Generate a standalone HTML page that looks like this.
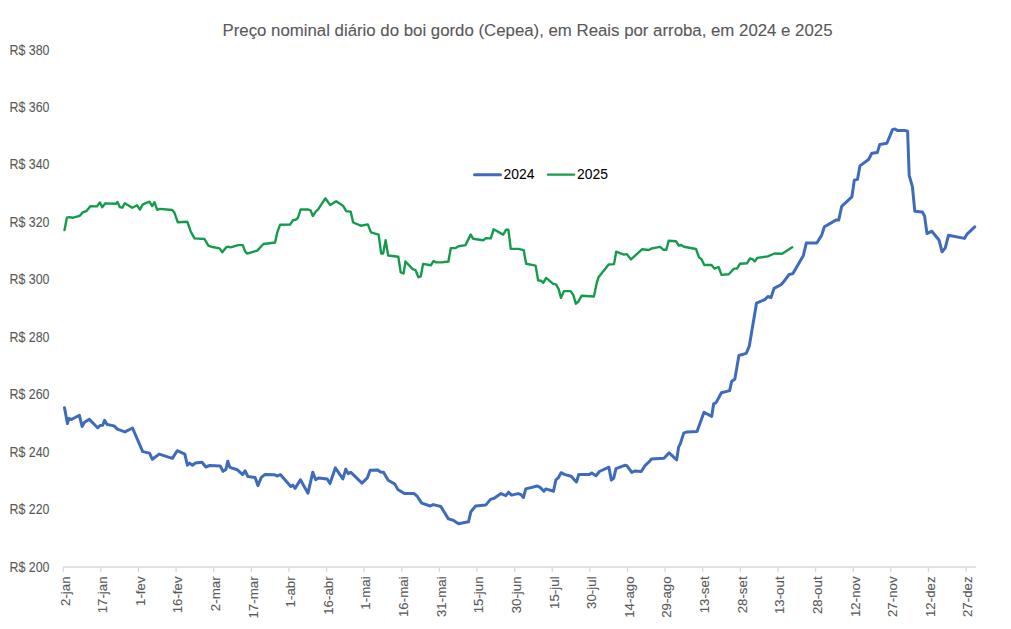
<!DOCTYPE html>
<html><head><meta charset="utf-8"><style>
html,body{margin:0;padding:0;background:#fff;width:1011px;height:629px;overflow:hidden}
svg{display:block;font-family:"Liberation Sans",sans-serif}
.g{fill:#595959;stroke:#595959;stroke-width:0.1px}
.k{fill:#000;stroke:#000;stroke-width:0.05px}
</style></head><body>
<svg width="1011" height="629" viewBox="0 0 1011 629">
<rect width="1011" height="629" fill="#fff"/>
<text x="222.5" y="35.5" font-size="17.4" class="g" textLength="610" lengthAdjust="spacingAndGlyphs">Preço nominal diário do boi gordo (Cepea), em Reais por arroba, em 2024 e 2025</text>
<text x="49.5" y="54.60" font-size="14.0" class="g" text-anchor="end" textLength="40" lengthAdjust="spacingAndGlyphs">R$ 380</text>
<text x="49.5" y="112.04" font-size="14.0" class="g" text-anchor="end" textLength="40" lengthAdjust="spacingAndGlyphs">R$ 360</text>
<text x="49.5" y="169.49" font-size="14.0" class="g" text-anchor="end" textLength="40" lengthAdjust="spacingAndGlyphs">R$ 340</text>
<text x="49.5" y="226.93" font-size="14.0" class="g" text-anchor="end" textLength="40" lengthAdjust="spacingAndGlyphs">R$ 320</text>
<text x="49.5" y="284.38" font-size="14.0" class="g" text-anchor="end" textLength="40" lengthAdjust="spacingAndGlyphs">R$ 300</text>
<text x="49.5" y="341.82" font-size="14.0" class="g" text-anchor="end" textLength="40" lengthAdjust="spacingAndGlyphs">R$ 280</text>
<text x="49.5" y="399.27" font-size="14.0" class="g" text-anchor="end" textLength="40" lengthAdjust="spacingAndGlyphs">R$ 260</text>
<text x="49.5" y="456.71" font-size="14.0" class="g" text-anchor="end" textLength="40" lengthAdjust="spacingAndGlyphs">R$ 240</text>
<text x="49.5" y="514.16" font-size="14.0" class="g" text-anchor="end" textLength="40" lengthAdjust="spacingAndGlyphs">R$ 220</text>
<text x="49.5" y="571.60" font-size="14.0" class="g" text-anchor="end" textLength="40" lengthAdjust="spacingAndGlyphs">R$ 200</text>
<line x1="63.2" y1="567.0" x2="976.2" y2="567.0" stroke="#d9d9d9" stroke-width="1.3"/>
<line x1="63.20" y1="567.0" x2="63.20" y2="572" stroke="#d9d9d9" stroke-width="1.3"/>
<text transform="translate(69.50,576.4) rotate(-90)" x="0" y="0" font-size="13.3" class="g" text-anchor="end">2-jan</text>
<line x1="100.82" y1="567.0" x2="100.82" y2="572" stroke="#d9d9d9" stroke-width="1.3"/>
<text transform="translate(107.12,576.4) rotate(-90)" x="0" y="0" font-size="13.3" class="g" text-anchor="end">17-jan</text>
<line x1="138.44" y1="567.0" x2="138.44" y2="572" stroke="#d9d9d9" stroke-width="1.3"/>
<text transform="translate(144.74,576.4) rotate(-90)" x="0" y="0" font-size="13.3" class="g" text-anchor="end">1-fev</text>
<line x1="176.06" y1="567.0" x2="176.06" y2="572" stroke="#d9d9d9" stroke-width="1.3"/>
<text transform="translate(182.36,576.4) rotate(-90)" x="0" y="0" font-size="13.3" class="g" text-anchor="end">16-fev</text>
<line x1="213.68" y1="567.0" x2="213.68" y2="572" stroke="#d9d9d9" stroke-width="1.3"/>
<text transform="translate(219.98,576.4) rotate(-90)" x="0" y="0" font-size="13.3" class="g" text-anchor="end">2-mar</text>
<line x1="251.30" y1="567.0" x2="251.30" y2="572" stroke="#d9d9d9" stroke-width="1.3"/>
<text transform="translate(257.60,576.4) rotate(-90)" x="0" y="0" font-size="13.3" class="g" text-anchor="end">17-mar</text>
<line x1="288.92" y1="567.0" x2="288.92" y2="572" stroke="#d9d9d9" stroke-width="1.3"/>
<text transform="translate(295.22,576.4) rotate(-90)" x="0" y="0" font-size="13.3" class="g" text-anchor="end">1-abr</text>
<line x1="326.54" y1="567.0" x2="326.54" y2="572" stroke="#d9d9d9" stroke-width="1.3"/>
<text transform="translate(332.84,576.4) rotate(-90)" x="0" y="0" font-size="13.3" class="g" text-anchor="end">16-abr</text>
<line x1="364.16" y1="567.0" x2="364.16" y2="572" stroke="#d9d9d9" stroke-width="1.3"/>
<text transform="translate(370.46,576.4) rotate(-90)" x="0" y="0" font-size="13.3" class="g" text-anchor="end">1-mai</text>
<line x1="401.78" y1="567.0" x2="401.78" y2="572" stroke="#d9d9d9" stroke-width="1.3"/>
<text transform="translate(408.08,576.4) rotate(-90)" x="0" y="0" font-size="13.3" class="g" text-anchor="end">16-mai</text>
<line x1="439.40" y1="567.0" x2="439.40" y2="572" stroke="#d9d9d9" stroke-width="1.3"/>
<text transform="translate(445.70,576.4) rotate(-90)" x="0" y="0" font-size="13.3" class="g" text-anchor="end">31-mai</text>
<line x1="477.02" y1="567.0" x2="477.02" y2="572" stroke="#d9d9d9" stroke-width="1.3"/>
<text transform="translate(483.32,576.4) rotate(-90)" x="0" y="0" font-size="13.3" class="g" text-anchor="end">15-jun</text>
<line x1="514.64" y1="567.0" x2="514.64" y2="572" stroke="#d9d9d9" stroke-width="1.3"/>
<text transform="translate(520.94,576.4) rotate(-90)" x="0" y="0" font-size="13.3" class="g" text-anchor="end">30-jun</text>
<line x1="552.26" y1="567.0" x2="552.26" y2="572" stroke="#d9d9d9" stroke-width="1.3"/>
<text transform="translate(558.56,576.4) rotate(-90)" x="0" y="0" font-size="13.3" class="g" text-anchor="end">15-jul</text>
<line x1="589.88" y1="567.0" x2="589.88" y2="572" stroke="#d9d9d9" stroke-width="1.3"/>
<text transform="translate(596.18,576.4) rotate(-90)" x="0" y="0" font-size="13.3" class="g" text-anchor="end">30-jul</text>
<line x1="627.50" y1="567.0" x2="627.50" y2="572" stroke="#d9d9d9" stroke-width="1.3"/>
<text transform="translate(633.80,576.4) rotate(-90)" x="0" y="0" font-size="13.3" class="g" text-anchor="end">14-ago</text>
<line x1="665.12" y1="567.0" x2="665.12" y2="572" stroke="#d9d9d9" stroke-width="1.3"/>
<text transform="translate(671.42,576.4) rotate(-90)" x="0" y="0" font-size="13.3" class="g" text-anchor="end">29-ago</text>
<line x1="702.74" y1="567.0" x2="702.74" y2="572" stroke="#d9d9d9" stroke-width="1.3"/>
<text transform="translate(709.04,576.4) rotate(-90)" x="0" y="0" font-size="13.3" class="g" text-anchor="end">13-set</text>
<line x1="740.36" y1="567.0" x2="740.36" y2="572" stroke="#d9d9d9" stroke-width="1.3"/>
<text transform="translate(746.66,576.4) rotate(-90)" x="0" y="0" font-size="13.3" class="g" text-anchor="end">28-set</text>
<line x1="777.98" y1="567.0" x2="777.98" y2="572" stroke="#d9d9d9" stroke-width="1.3"/>
<text transform="translate(784.28,576.4) rotate(-90)" x="0" y="0" font-size="13.3" class="g" text-anchor="end">13-out</text>
<line x1="815.60" y1="567.0" x2="815.60" y2="572" stroke="#d9d9d9" stroke-width="1.3"/>
<text transform="translate(821.90,576.4) rotate(-90)" x="0" y="0" font-size="13.3" class="g" text-anchor="end">28-out</text>
<line x1="853.22" y1="567.0" x2="853.22" y2="572" stroke="#d9d9d9" stroke-width="1.3"/>
<text transform="translate(859.52,576.4) rotate(-90)" x="0" y="0" font-size="13.3" class="g" text-anchor="end">12-nov</text>
<line x1="890.84" y1="567.0" x2="890.84" y2="572" stroke="#d9d9d9" stroke-width="1.3"/>
<text transform="translate(897.14,576.4) rotate(-90)" x="0" y="0" font-size="13.3" class="g" text-anchor="end">27-nov</text>
<line x1="928.46" y1="567.0" x2="928.46" y2="572" stroke="#d9d9d9" stroke-width="1.3"/>
<text transform="translate(934.76,576.4) rotate(-90)" x="0" y="0" font-size="13.3" class="g" text-anchor="end">12-dez</text>
<line x1="966.08" y1="567.0" x2="966.08" y2="572" stroke="#d9d9d9" stroke-width="1.3"/>
<text transform="translate(972.38,576.4) rotate(-90)" x="0" y="0" font-size="13.3" class="g" text-anchor="end">27-dez</text>
<polyline points="64.5,407.7 67.5,423.6 68.7,418.5 71.5,419.5 79.4,415.3 82.1,426.5 84.5,422.3 89.3,419.4 97.6,427.8 100.1,425.5 102.7,425.3 104.6,420.4 107.1,424.5 114.1,425.9 117.3,429.1 124.9,431.9 132.5,428.0 142.7,451.6 149.5,453.1 152.4,459.3 159.1,454.1 172.4,458.4 177.2,450.7 184.8,454.1 187.4,465.1 189.6,463.1 192.5,465.3 195.3,463.1 202.0,462.2 205.8,467.0 209.7,465.5 220.2,466.0 223.0,471.3 225.9,469.4 227.8,461.2 229.8,467.4 237.4,469.8 242.7,474.6 245.0,470.8 247.9,476.5 255.1,477.4 257.9,485.6 261.3,477.4 265.1,474.4 274.6,474.8 277.5,476.0 280.3,474.6 290.8,486.5 292.7,485.1 295.1,488.4 300.4,479.8 308.0,493.2 312.8,472.2 315.7,479.8 318.6,477.9 327.2,478.9 330.0,483.6 335.3,467.9 342.9,478.9 345.8,469.1 348.2,473.6 350.6,472.2 362.0,483.1 367.3,477.9 370.1,470.3 377.7,470.1 380.6,472.0 383.5,472.2 388.2,480.3 394.9,484.1 397.8,489.4 404.5,493.6 414.1,493.6 417.0,496.0 421.7,503.1 430.3,506.0 433.2,504.6 440.8,506.5 448.4,518.9 453.2,520.3 458.5,523.7 468.5,521.8 470.9,511.7 475.6,506.0 485.7,505.1 490.5,499.4 493.8,498.4 501.0,493.6 505.8,495.6 508.6,492.2 511.5,495.1 518.2,493.6 521.0,494.6 523.4,497.5 525.8,488.9 537.3,486.0 540.1,487.4 543.9,491.3 545.8,488.9 553.5,491.3 555.9,479.8 558.2,477.9 561.1,472.7 564.9,474.6 571.2,476.3 574.1,479.6 576.5,482.0 578.8,474.4 589.3,474.4 591.7,472.9 596.0,475.8 599.4,471.5 608.9,467.2 611.3,480.1 613.7,478.2 616.0,468.6 624.6,465.3 627.0,465.8 631.8,472.4 634.7,471.0 641.3,471.5 645.2,465.3 649.0,461.9 651.4,459.1 664.0,458.2 669.1,452.8 676.7,459.8 678.6,447.1 680.5,443.3 683.7,433.1 686.9,431.9 697.0,431.6 704.0,412.2 711.7,416.4 713.6,403.9 716.1,402.6 721.4,392.7 729.6,390.6 731.7,381.3 734.8,379.2 738.9,355.5 746.2,353.4 749.3,346.1 756.5,303.2 764.8,299.6 767.9,296.5 771.0,297.6 774.1,288.3 781.3,284.5 783.4,282.1 789.1,274.5 792.9,273.6 803.4,255.4 806.3,243.0 816.8,243.0 821.6,235.4 824.4,226.8 835.9,220.1 838.7,220.1 841.6,206.7 842.4,205.7 851.9,196.9 854.3,180.2 857.5,179.4 859.9,165.9 868.6,159.5 871.8,153.2 877.4,152.4 879.8,144.4 886.9,143.3 892.5,129.6 894.9,129.0 897.3,130.4 904.4,130.4 907.6,131.2 909.2,175.4 912.4,186.6 914.8,211.2 922.3,212.1 924.6,216.1 927.0,233.6 931.8,231.2 939.0,240.0 942.1,251.9 945.3,247.9 948.5,235.2 964.4,238.4 966.8,234.4 974.7,226.9" fill="none" stroke="#3F6BBD" stroke-width="3" stroke-linejoin="round" stroke-linecap="round"/>
<polyline points="64.5,230.1 66.9,217.7 69.3,217.2 73.1,217.7 79.8,215.8 82.7,212.4 86.5,211.0 90.3,206.2 97.0,206.4 99.8,202.4 102.2,207.2 105.1,203.4 116.1,203.8 117.5,201.9 119.9,207.2 122.3,207.7 124.7,203.2 132.3,207.7 137.1,205.3 139.9,209.6 142.8,204.3 149.5,201.7 152.2,206.1 154.5,202.2 157.2,209.8 160.0,208.9 172.3,210.0 174.5,212.8 177.8,222.3 187.3,221.7 190.6,231.2 194.5,238.4 204.5,239.0 208.4,245.6 211.2,246.7 219.5,248.4 222.3,252.3 226.2,247.3 227.8,246.7 230.6,247.3 238.3,245.1 242.8,245.1 245.0,251.2 247.2,253.6 257.3,250.6 263.4,244.0 275.1,242.5 277.3,232.3 280.1,224.7 290.1,224.5 292.9,220.3 295.6,219.8 297.9,217.8 300.6,209.5 308.4,209.5 310.7,210.6 312.8,216.1 315.7,211.7 318.3,209.2 325.3,198.3 330.3,205.1 336.1,201.3 343.0,205.7 346.2,211.1 350.7,211.7 353.2,222.5 360.8,225.7 367.8,224.4 371.0,232.3 378.6,234.6 381.2,253.6 383.1,253.6 385.6,240.3 388.2,255.5 398.3,256.8 400.7,272.4 403.6,273.4 405.5,261.5 412.7,269.1 415.5,270.1 418.4,277.2 420.8,276.3 423.1,263.9 430.8,265.3 433.6,261.0 436.0,262.4 441.8,262.4 448.4,261.5 450.8,248.1 455.6,248.1 458.5,246.2 465.5,245.1 470.7,234.6 473.1,238.7 483.1,240.3 486.0,238.2 490.8,238.4 493.6,229.3 503.2,234.6 506.0,229.8 508.4,229.8 510.8,248.9 518.4,248.9 523.7,250.1 526.1,263.7 535.6,265.6 538.1,280.3 541.0,280.8 543.4,282.7 546.2,277.9 552.9,283.6 556.2,284.6 558.6,288.9 561.0,297.9 563.9,291.1 570.6,291.1 573.4,295.1 575.8,303.7 578.2,301.8 581.5,295.8 593.9,296.5 596.8,282.7 598.7,276.9 608.7,264.5 614.0,264.1 616.2,251.7 623.9,254.6 626.7,254.1 631.0,259.4 642.0,249.3 648.7,250.0 652.0,248.4 660.1,246.9 663.5,249.8 666.3,249.8 668.7,240.7 675.9,241.2 678.7,245.5 681.1,245.0 684.0,246.8 696.0,249.0 699.0,257.3 701.4,259.1 704.3,265.0 711.5,265.0 714.4,268.6 718.6,267.0 721.5,274.9 728.7,274.2 734.0,268.6 737.0,268.6 739.9,263.8 747.1,263.2 750.0,258.5 752.4,259.1 754.8,261.5 757.2,257.9 767.8,256.4 774.4,253.5 782.1,253.7 786.8,250.8 792.2,247.2" fill="none" stroke="#149C4C" stroke-width="2.4" stroke-linejoin="round" stroke-linecap="round"/>
<line x1="474.5" y1="174.7" x2="500.5" y2="174.7" stroke="#3F6BBD" stroke-width="3" stroke-linecap="round"/>
<text x="503.5" y="179" font-size="13.9" class="k">2024</text>
<line x1="548" y1="174.6" x2="574" y2="174.6" stroke="#149C4C" stroke-width="2.4" stroke-linecap="round"/>
<text x="577" y="179" font-size="13.9" class="k">2025</text>
</svg>
</body></html>
